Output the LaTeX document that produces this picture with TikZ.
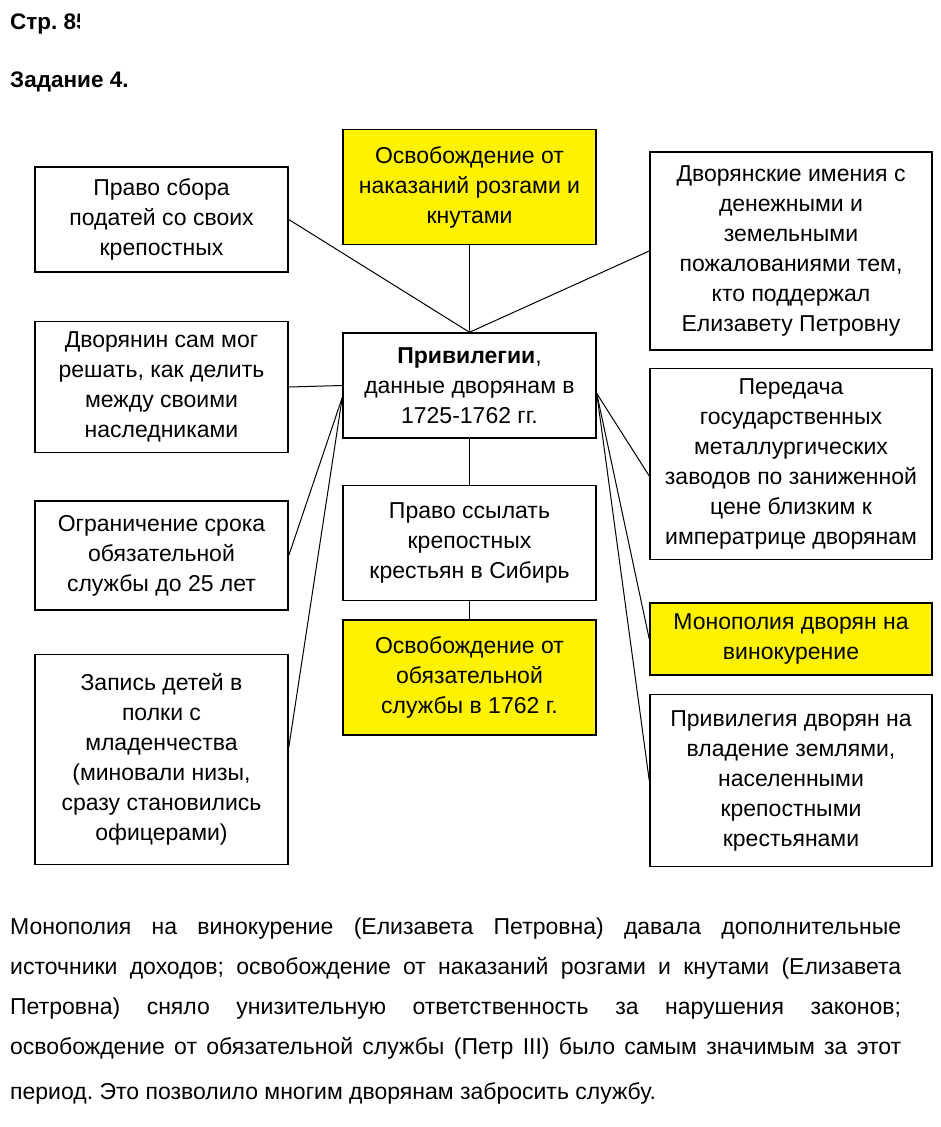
\documentclass[tikz,border=0pt]{standalone}
\usepackage{fontspec}
\setmainfont{Liberation Sans}
\frenchspacing
\usepackage{tikz}
\usetikzlibrary{
	positioning
}

\begin{document}
\begin{tikzpicture}[
				x=1pt, y=-1pt,
				box/.style={
					draw,
					rectangle,
					line width=1.5pt,
					minimum width=253pt,
					inner sep=0pt,
					align=center,
					font=\fontsize{23}{30}\selectfont
				},
				widebox/.style={
					box,
					minimum width=282pt
				},
				mark box/.style={
					fill=yellow
				},
				link/.style={
					line width=1pt
				},
				head/.style={
					anchor=base west,
					inner sep=0pt,
					font=\bfseries\fontsize{22.5}{26}\selectfont
				},
				para/.style={
					anchor=base west,
					inner sep=0pt,
					font=\fontsize{23}{30}\selectfont
				}
				]
				
				\useasboundingbox (0,0) rectangle (941,1127);
				
				\begin{scope}
					\clip (0,0) rectangle (79,45);
					\node[head] (page) at (10,29) {Стр. 85};
				\end{scope}
				\node[head] (task) at (10,87) {Задание 4.};
				
				\node[box, minimum height=105pt] (priv) at (469.5,385.5) {
					\textbf{Привилегии},\\
					данные дворянам в\\
					1725-1762 гг.
				};
				
				\node[box, mark box, minimum height=115pt, above=87pt of priv] (rozgi) {
					Освобождение от\\
					наказаний розгами и\\
					кнутами
				};
				
				\node[box, minimum height=115pt, below=46pt of priv] (sibir) {
					Право ссылать\\
					крепостных\\
					крестьян в Сибирь
				};
				
				\node[box, mark box, minimum height=115pt, below=18pt of sibir] (sluzhba) {
					Освобождение от\\
					обязательной\\
					службы в 1762 г.
				};
				
				\node[box, minimum height=105pt] (podati) at (161.5,219.5) {
					Право сбора\\
					податей со своих\\
					крепостных
				};
				
				\node[box, minimum height=131pt, below=48pt of podati] (nasled) {
					Дворянин сам мог\\
					решать, как делить\\
					между своими\\
					наследниками
				};
				
				\node[box, minimum height=109pt, below=47pt of nasled] (srok) {
					Ограничение срока\\
					обязательной\\
					службы до 25 лет
				};
				
				\node[box, minimum height=210pt, below=43pt of srok] (zapis) {
					Запись детей в\\
					полки с\\
					младенчества\\
					(миновали низы,\\
					сразу становились\\
					офицерами)
				};
				
				\node[widebox, minimum height=198pt] (imenia) at (791,251) {
					Дворянские имения с\\
					денежными и\\
					земельными\\
					пожалованиями тем,\\
					кто поддержал\\
					Елизавету Петровну
				};
				
				\node[widebox, minimum height=191pt, below=17pt of imenia] (zavody) {
					Передача\\
					государственных\\
					металлургических\\
					заводов по заниженной\\
					цене близким к\\
					императрице дворянам
				};
				
				\node[widebox, mark box, minimum height=72pt, below=42pt of zavody] (vino) {
					Монополия дворян на\\
					винокурение
				};
				
				\node[widebox, minimum height=172pt, below=18pt of vino] (zemli) {
					Привилегия дворян на\\
					владение землями,\\
					населенными\\
					крепостными\\
					крестьянами
				};
				
				\coordinate (pl) at ([yshift=-12pt]priv.west);
				\coordinate (pr) at ([yshift=-8pt]priv.east);
				
				\draw[link] (priv.north) -- (rozgi);
				\draw[link] (priv.north) -- (podati.east);
				\draw[link] (priv.north) -- (imenia.west);
				\draw[link] (priv.west) -- (nasled.east);
				\draw[link] (priv.south) -- (sibir);
				\draw[link] (sibir.south) -- (sluzhba);
				\draw[link] (pl) -- (srok.east);
				\draw[link] (pl) -- ([yshift=12pt]zapis.east);
				\draw[link] (pr) -- ([yshift=-12pt]zavody.west);
				\draw[link] (pr) -- (vino.west);
				\draw[link] (pr) -- (zemli.west);
				
				\node[para] (l1) at (10,934) {\makebox[891pt][s]{Монополия на винокурение (Елизавета Петровна) давала дополнительные}};
				\node[para] (l2) at (10,974) {\makebox[891pt][s]{источники доходов; освобождение от наказаний розгами и кнутами (Елизавета}};
				\node[para] (l3) at (10,1014) {\makebox[891pt][s]{Петровна) сняло унизительную ответственность за нарушения законов;}};
				\node[para] (l4) at (10,1054) {\makebox[891pt][s]{освобождение от обязательной службы (Петр III) было самым значимым за этот}};
				\node[para] (l5) at (10,1099) {период. Это позволило многим дворянам забросить службу.};
				
			\end{tikzpicture}
\end{document}
